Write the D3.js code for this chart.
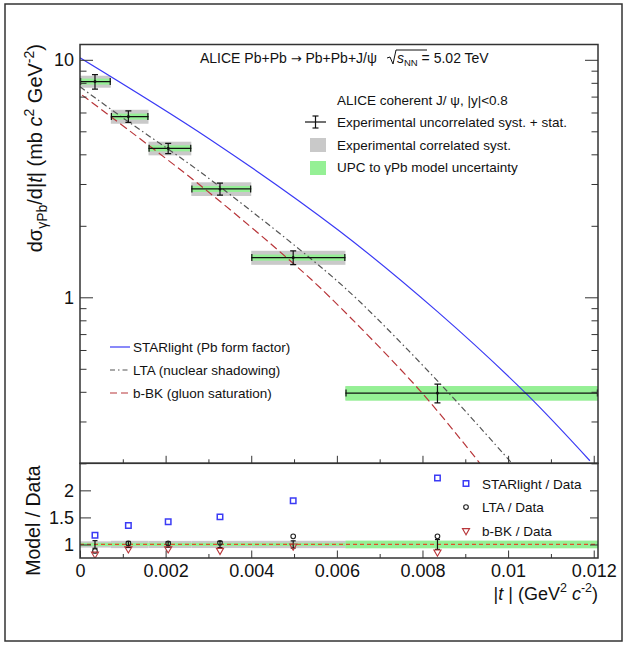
<!DOCTYPE html>
<html lang="en">
<head>
<meta charset="UTF-8">
<title>ALICE coherent J/psi photoproduction vs |t|</title>
<script src="https://cdnjs.cloudflare.com/ajax/libs/d3/7.8.5/d3.min.js"></script>
<style>
    body { margin: 0; background: #fff; }
    svg { display: block; font-family: "Liberation Sans", Arial, sans-serif; fill: #111; }
    .frame { fill: none; stroke: #333; stroke-width: 1.5; }
    .tick line { stroke: #333; stroke-width: 1; }
    .tick text { font-size: 18px; fill: #111; }
    .legend text, .header { font-size: 13.5px; }
</style>
</head>
<body>
<svg id="chart" width="627" height="645"></svg>
<script>
// |t| bins (GeV^2 c^-2) and measured cross section (mb c^2 GeV^-2)
const binLo = [0, 0.00072, 0.0016, 0.0026, 0.004, 0.0062];
const binHi = [0.00072, 0.0016, 0.0026, 0.004, 0.0062, 0.0121];
const tMean = [0.00035, 0.00113, 0.00206, 0.00327, 0.00498, 0.00835];
const xsec = [8.10, 5.77, 4.24, 2.86, 1.47, 0.395];
const errUncorr = [0.57, 0.32, 0.21, 0.165, 0.098, 0.036];
const errCorr = [0.47, 0.39, 0.28, 0.19, 0.10, 0.026];
const errModel = [0.235, 0.167, 0.123, 0.083, 0.043, 0.028];

// model curves [|t|, dsigma/d|t|]
const starlight = [[0, 10.2], [0.00304, 4.62], [0.00603, 1.92], [0.00835, 0.87], [0.01044, 0.39], [0.01191, 0.205]];
const lta = [[0, 7.70], [0.00101, 5.68], [0.0028, 3.38], [0.00544, 1.43], [0.00646, 0.987], [0.00841, 0.433], [0.01009, 0.200]];
const bbk = [[0.00005, 7.1], [0.0028, 2.97], [0.00498, 1.39], [0.00584, 1.0], [0.00794, 0.405], [0.00934, 0.2]];

// model / data
const ratioStarlight = [1.17, 1.35, 1.42, 1.51, 1.81, 2.23];
const ratioLta = [0.88, 1.02, 1.02, 1.03, 1.15, 1.15];
const ratioBbk = [0.82, 0.92, 0.92, 0.89, 0.97, 0.86];

const xMajor = [0, 0.002, 0.004, 0.006, 0.008, 0.01, 0.012];
const xMinor = [0.001, 0.003, 0.005, 0.007, 0.009, 0.011];
const xLabels = ["0", "0.002", "0.004", "0.006", "0.008", "0.01", "0.012"];
const yMajor = [1, 10];
const yMinor = [0.2, 0.3, 0.4, 0.5, 0.6, 0.7, 0.8, 0.9, 2, 3, 4, 5, 6, 7, 8, 9];
const ratioTicks = [1, 1.5, 2];
const ratioLabels = ["1", "1.5", "2"];

const colors = { starlight: "#3b3bf5", lta: "#555", bbk: "#b8363a", corr: "#c9c9c9", model: "#95f095" };

const L = 80, R = 598, T = 44.5, MID = 463.3, B = 558;

const svg = d3.select("#chart");
svg.append("rect").attr("width", 627).attr("height", 645).attr("fill", "#fff");
svg.append("rect").attr("class", "frame").attr("x", 5).attr("y", 4).attr("width", 617).attr("height", 637);

const x = d3.scaleLinear().domain([0, 0.0121]).range([L, R]);
const y = d3.scaleLog().domain([0.2, 11.6]).range([MID, T]);
const yr = d3.scaleLinear().domain([0.75, 2.5]).range([B, MID]);

svg.append("clipPath").attr("id", "clipMain")
    .append("rect").attr("x", L).attr("y", T).attr("width", R - L).attr("height", MID - T);
svg.append("clipPath").attr("id", "clipRatio")
    .append("rect").attr("x", L).attr("y", MID).attr("width", R - L).attr("height", B - MID);

const idx = d3.range(xsec.length);

// ---------- main panel ----------
const main = svg.append("g").attr("clip-path", "url(#clipMain)");

main.selectAll("rect.corr").data(idx).enter().append("rect")
    .attr("x", i => x(binLo[i])).attr("width", i => x(binHi[i]) - x(binLo[i]))
    .attr("y", i => y(xsec[i] + errCorr[i]))
    .attr("height", i => y(xsec[i] - errCorr[i]) - y(xsec[i] + errCorr[i]))
    .attr("fill", colors.corr);

main.selectAll("rect.model").data(idx).enter().append("rect")
    .attr("x", i => x(binLo[i])).attr("width", i => x(binHi[i]) - x(binLo[i]))
    .attr("y", i => y(xsec[i] + errModel[i]))
    .attr("height", i => y(xsec[i] - errModel[i]) - y(xsec[i] + errModel[i]))
    .attr("fill", colors.model);

const line = d3.line().x(d => x(d[0])).y(d => y(d[1])).curve(d3.curveCatmullRom);
main.append("path").datum(starlight).attr("d", line)
    .attr("fill", "none").attr("stroke", colors.starlight).attr("stroke-width", 1.2);
main.append("path").datum(lta).attr("d", line)
    .attr("fill", "none").attr("stroke", colors.lta).attr("stroke-width", 1.2)
    .attr("stroke-dasharray", "6,3,1.5,3");
main.append("path").datum(bbk).attr("d", line)
    .attr("fill", "none").attr("stroke", colors.bbk).attr("stroke-width", 1.2)
    .attr("stroke-dasharray", "8,4");

const pts = main.selectAll("g.pt").data(idx).enter().append("g")
    .attr("stroke", "#111").attr("stroke-width", 1.2);
pts.append("line")
    .attr("x1", i => x(binLo[i])).attr("x2", i => x(binHi[i]))
    .attr("y1", i => y(xsec[i])).attr("y2", i => y(xsec[i]));
pts.append("line")
    .attr("x1", i => x(binLo[i]) + 0.6).attr("x2", i => x(binLo[i]) + 0.6)
    .attr("y1", i => y(xsec[i]) - 3.5).attr("y2", i => y(xsec[i]) + 3.5);
pts.append("line")
    .attr("x1", i => x(binHi[i]) - 0.6).attr("x2", i => x(binHi[i]) - 0.6)
    .attr("y1", i => y(xsec[i]) - 3.5).attr("y2", i => y(xsec[i]) + 3.5);
pts.append("line")
    .attr("x1", i => x(tMean[i])).attr("x2", i => x(tMean[i]))
    .attr("y1", i => y(xsec[i] - errUncorr[i])).attr("y2", i => y(xsec[i] + errUncorr[i]));
pts.append("line")
    .attr("x1", i => x(tMean[i]) - 3).attr("x2", i => x(tMean[i]) + 3)
    .attr("y1", i => y(xsec[i] - errUncorr[i])).attr("y2", i => y(xsec[i] - errUncorr[i]));
pts.append("line")
    .attr("x1", i => x(tMean[i]) - 3).attr("x2", i => x(tMean[i]) + 3)
    .attr("y1", i => y(xsec[i] + errUncorr[i])).attr("y2", i => y(xsec[i] + errUncorr[i]));
pts.append("circle")
    .attr("cx", i => x(tMean[i])).attr("cy", i => y(xsec[i])).attr("r", 1.5)
    .attr("fill", "#111").attr("stroke", "none");

// ---------- ratio panel ----------
const ratio = svg.append("g").attr("clip-path", "url(#clipRatio)");

ratio.selectAll("rect.corr").data(idx).enter().append("rect")
    .attr("x", i => x(binLo[i])).attr("width", i => x(binHi[i]) - x(binLo[i]))
    .attr("y", i => yr(1 + errCorr[i] / xsec[i]))
    .attr("height", i => yr(1 - errCorr[i] / xsec[i]) - yr(1 + errCorr[i] / xsec[i]))
    .attr("fill", colors.corr);
ratio.selectAll("rect.model").data(idx).enter().append("rect")
    .attr("x", i => x(binLo[i])).attr("width", i => x(binHi[i]) - x(binLo[i]))
    .attr("y", i => yr(1 + errModel[i] / xsec[i]))
    .attr("height", i => yr(1 - errModel[i] / xsec[i]) - yr(1 + errModel[i] / xsec[i]))
    .attr("fill", colors.model);
ratio.append("line")
    .attr("x1", L).attr("x2", R).attr("y1", yr(1)).attr("y2", yr(1))
    .attr("stroke", "#e0502a").attr("stroke-width", 1.3).attr("stroke-dasharray", "4,3");

const rpts = ratio.selectAll("g.rpt").data(idx).enter().append("g")
    .attr("stroke", "#111").attr("stroke-width", 1.2);
rpts.append("line")
    .attr("x1", i => x(tMean[i])).attr("x2", i => x(tMean[i]))
    .attr("y1", i => yr(1 - errUncorr[i] / xsec[i])).attr("y2", i => yr(1 + errUncorr[i] / xsec[i]));
rpts.append("line")
    .attr("x1", i => x(tMean[i]) - 2.5).attr("x2", i => x(tMean[i]) + 2.5)
    .attr("y1", i => yr(1 - errUncorr[i] / xsec[i])).attr("y2", i => yr(1 - errUncorr[i] / xsec[i]));
rpts.append("line")
    .attr("x1", i => x(tMean[i]) - 2.5).attr("x2", i => x(tMean[i]) + 2.5)
    .attr("y1", i => yr(1 + errUncorr[i] / xsec[i])).attr("y2", i => yr(1 + errUncorr[i] / xsec[i]));

const sq = d3.symbol().type(d3.symbolSquare).size(30);
const circ = d3.symbol().type(d3.symbolCircle).size(17);
const tri = d3.symbol().type(d3.symbolTriangle).size(22);

ratio.selectAll("path.sl").data(idx).enter().append("path")
    .attr("d", sq).attr("transform", i => `translate(${x(tMean[i])},${yr(ratioStarlight[i])})`)
    .attr("fill", "none").attr("stroke", colors.starlight).attr("stroke-width", 1.5);
ratio.selectAll("path.lta").data(idx).enter().append("path")
    .attr("d", circ).attr("transform", i => `translate(${x(tMean[i])},${yr(ratioLta[i])})`)
    .attr("fill", "none").attr("stroke", "#222").attr("stroke-width", 1.1);
ratio.selectAll("path.bbk").data(idx).enter().append("path")
    .attr("d", tri).attr("transform", i => `translate(${x(tMean[i])},${yr(ratioBbk[i])}) rotate(180)`)
    .attr("fill", "none").attr("stroke", colors.bbk).attr("stroke-width", 1.1);

// ---------- axes ----------
function clean(g) { g.select(".domain").remove(); return g; }

svg.append("g").attr("transform", `translate(${L},0)`)
    .call(d3.axisLeft(y).tickValues(yMajor).tickSize(-13).tickPadding(6).tickFormat(d3.format("d"))).call(clean);
svg.append("g").attr("transform", `translate(${L},0)`)
    .call(d3.axisLeft(y).tickValues(yMinor).tickSize(-6.5).tickFormat("")).call(clean);
svg.append("g").attr("transform", `translate(${R},0)`)
    .call(d3.axisRight(y).tickValues(yMajor).tickSize(-13).tickFormat("")).call(clean);
svg.append("g").attr("transform", `translate(${R},0)`)
    .call(d3.axisRight(y).tickValues(yMinor).tickSize(-6.5).tickFormat("")).call(clean);

svg.append("g").attr("transform", `translate(0,${MID})`)
    .call(d3.axisBottom(x).tickValues(xMajor.slice(1)).tickSize(-7.5).tickFormat("")).call(clean);
svg.append("g").attr("transform", `translate(0,${MID})`)
    .call(d3.axisBottom(x).tickValues(xMinor).tickSize(-4).tickFormat("")).call(clean);
svg.append("g").attr("transform", `translate(0,${B})`)
    .call(d3.axisBottom(x).tickValues(xMajor).tickSize(-7.5).tickPadding(6)
        .tickFormat((d, i) => xLabels[i])).call(clean);
svg.append("g").attr("transform", `translate(0,${B})`)
    .call(d3.axisBottom(x).tickValues(xMinor).tickSize(-4).tickFormat("")).call(clean);

svg.append("g").attr("transform", `translate(${L},0)`)
    .call(d3.axisLeft(yr).tickValues(ratioTicks).tickSize(-11).tickPadding(6)
        .tickFormat((d, i) => ratioLabels[i])).call(clean);
svg.append("g").attr("transform", `translate(${R},0)`)
    .call(d3.axisRight(yr).tickValues(ratioTicks).tickSize(-8).tickFormat("")).call(clean);

svg.append("rect").attr("class", "frame").attr("x", L).attr("y", T).attr("width", R - L).attr("height", MID - T);
svg.append("rect").attr("class", "frame").attr("x", L).attr("y", MID).attr("width", R - L).attr("height", B - MID);

// ---------- titles ----------
const yt = svg.append("text").attr("transform", "translate(42,44) rotate(-90)")
    .attr("text-anchor", "end").attr("font-size", 20);
yt.append("tspan").text("dσ");
yt.append("tspan").attr("font-size", 14).attr("dy", 5).text("γPb");
yt.append("tspan").attr("dy", -5).text("/d|");
yt.append("tspan").attr("font-style", "italic").text("t");
yt.append("tspan").text("| (mb ");
yt.append("tspan").attr("font-style", "italic").text("c");
yt.append("tspan").attr("font-size", 14).attr("dy", -8).text("2");
yt.append("tspan").attr("dy", 8).text(" GeV");
yt.append("tspan").attr("font-size", 14).attr("dy", -8).text("-2");
yt.append("tspan").attr("dy", 8).text(")");

svg.append("text").attr("transform", `translate(40,${MID + 2}) rotate(-90)`)
    .attr("text-anchor", "end").attr("font-size", 19.5).text("Model / Data");

const xt = svg.append("text").attr("x", R).attr("y", 600)
    .attr("text-anchor", "end").attr("font-size", 18);
xt.append("tspan").text("|");
xt.append("tspan").attr("font-style", "italic").text("t");
xt.append("tspan").text(" | (GeV");
xt.append("tspan").attr("font-size", 12.5).attr("dy", -8).text("2");
xt.append("tspan").attr("dy", 8).text(" ");
xt.append("tspan").attr("font-style", "italic").text("c");
xt.append("tspan").attr("font-size", 12.5).attr("dy", -8).text("-2");
xt.append("tspan").attr("dy", 8).text(")");

// header
const hd = svg.append("g").attr("class", "header");
const ht = hd.append("text").attr("x", 200).attr("y", 63).attr("font-size", 14);
ht.append("tspan").text("ALICE Pb+Pb ");
ht.append("tspan").attr("font-family", "DejaVu Sans").attr("font-size", 13).text("→");
ht.append("tspan").text(" Pb+Pb+J/ψ");
hd.append("path").attr("d", "M387,58 L390,57 L393,64 L396,50 L427,50")
    .attr("fill", "none").attr("stroke", "#111").attr("stroke-width", 1);
const sn = hd.append("text").attr("x", 397).attr("y", 63).attr("font-size", 14);
sn.append("tspan").attr("font-style", "italic").text("s");
sn.append("tspan").attr("font-size", 9.5).attr("dy", 3).text("NN");
sn.append("tspan").attr("dy", -3).text(" = 5.02 TeV");

// legend: data
const lg = svg.append("g").attr("class", "legend");
lg.append("text").attr("x", 337).attr("y", 104.5).text("ALICE coherent J/ ψ, |y|<0.8");
lg.append("text").attr("x", 337).attr("y", 127).text("Experimental uncorrelated syst. + stat.");
lg.append("text").attr("x", 337).attr("y", 149.5).text("Experimental correlated syst.");
lg.append("text").attr("x", 337).attr("y", 172).text("UPC to γPb model uncertainty");
const eb = lg.append("g").attr("stroke", "#111").attr("stroke-width", 1.2);
eb.append("line").attr("x1", 305).attr("x2", 326).attr("y1", 122).attr("y2", 122);
eb.append("line").attr("x1", 315.5).attr("x2", 315.5).attr("y1", 116).attr("y2", 128);
eb.append("line").attr("x1", 312.5).attr("x2", 318.5).attr("y1", 116).attr("y2", 116);
eb.append("line").attr("x1", 312.5).attr("x2", 318.5).attr("y1", 128).attr("y2", 128);
lg.append("rect").attr("x", 310).attr("y", 138).attr("width", 16).attr("height", 14).attr("fill", colors.corr);
lg.append("rect").attr("x", 310).attr("y", 161).attr("width", 16).attr("height", 14).attr("fill", colors.model);

// legend: models
const models = [
    { label: "STARlight (Pb form factor)", color: colors.starlight, dash: null },
    { label: "LTA (nuclear shadowing)", color: colors.lta, dash: "5,3,1.5,3" },
    { label: "b-BK (gluon saturation)", color: colors.bbk, dash: "7,4" }
];
models.forEach((m, i) => {
    const yy = 347 + i * 23;
    lg.append("line").attr("x1", 110).attr("x2", 130).attr("y1", yy).attr("y2", yy)
        .attr("stroke", m.color).attr("stroke-width", 1.2).attr("stroke-dasharray", m.dash);
    lg.append("text").attr("x", 133).attr("y", yy + 5).text(m.label);
});

// legend: ratios
const rl = [
    { label: "STARlight / Data", sym: sq, color: colors.starlight, rot: 0, w: 1.5 },
    { label: "LTA / Data", sym: circ, color: "#222", rot: 0, w: 1.1 },
    { label: "b-BK / Data", sym: tri, color: colors.bbk, rot: 180, w: 1.1 }
];
rl.forEach((m, i) => {
    const yy = 483.5 + i * 23.6;
    lg.append("path").attr("d", m.sym).attr("transform", `translate(466,${yy}) rotate(${m.rot})`)
        .attr("fill", "none").attr("stroke", m.color).attr("stroke-width", m.w);
    lg.append("text").attr("x", 482).attr("y", yy + 5).text(m.label);
});
</script>
</body>
</html>
